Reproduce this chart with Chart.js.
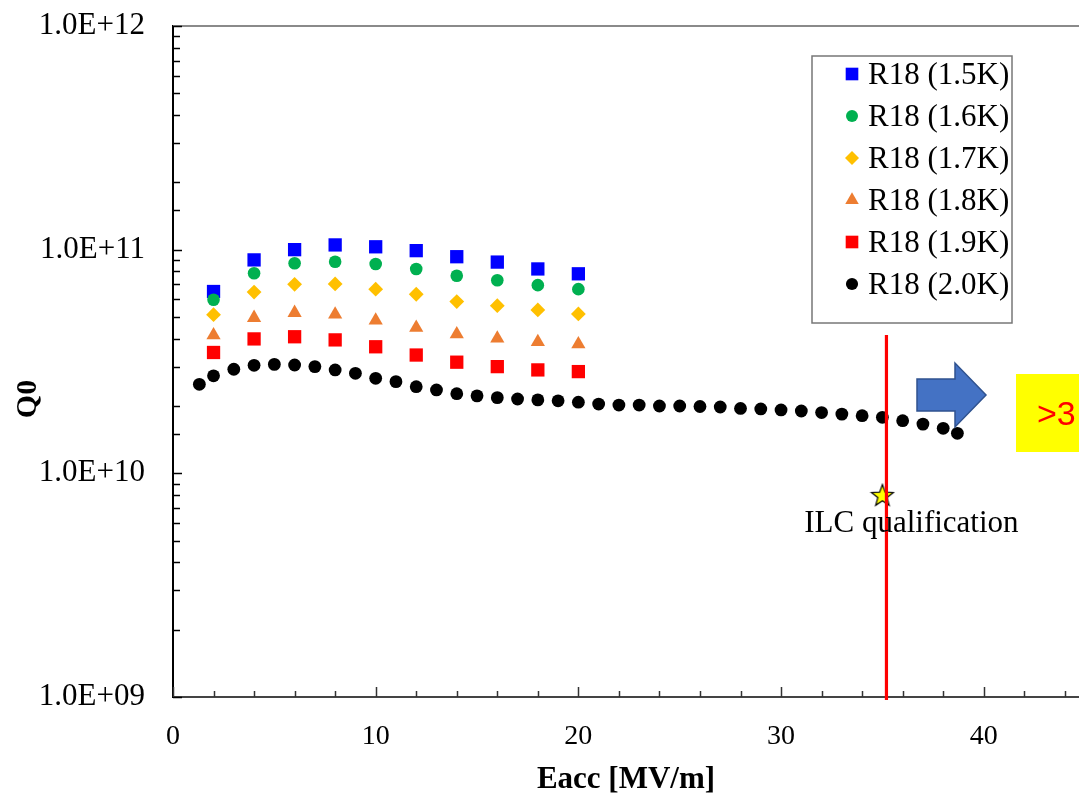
<!DOCTYPE html>
<html>
<head>
<meta charset="utf-8">
<script src="https://cdn.jsdelivr.net/npm/chart.js@4.4.0/dist/chart.umd.min.js"></script>
<style>
  html, body { margin: 0; padding: 0; background: #fff; overflow: hidden; }
  #wrap { width: 1079px; height: 795px; overflow: hidden; }
</style>
</head>
<body>
<div id="wrap"><canvas id="q0Chart" width="1093" height="795"></canvas></div>
<script>
// R18 vertical test: Q0 vs Eacc at several bath temperatures
const eaccSteps = [2, 4, 6, 8, 10, 12, 14, 16, 18, 20];
const q0_15K = [6.5e10, 9.0e10, 1.0e11, 1.05e11, 1.03e11, 9.9e10, 9.3e10, 8.8e10, 8.2e10, 7.8e10];
const q0_16K = [5.97e10, 7.85e10, 8.7e10, 8.83e10, 8.63e10, 8.2e10, 7.65e10, 7.3e10, 6.94e10, 6.66e10];
const q0_17K = [5.12e10, 6.46e10, 7.0e10, 7.03e10, 6.66e10, 6.32e10, 5.86e10, 5.62e10, 5.38e10, 5.16e10];
const q0_18K = [4.15e10, 4.96e10, 5.22e10, 5.13e10, 4.83e10, 4.48e10, 4.19e10, 4.01e10, 3.87e10, 3.78e10];
const q0_19K = [3.47e10, 3.99e10, 4.08e10, 3.95e10, 3.68e10, 3.38e10, 3.14e10, 3.0e10, 2.9e10, 2.85e10];

const eacc20K = [1.3, 2, 3, 4, 5, 6, 7, 8, 9, 10, 11, 12, 13, 14, 15, 16, 17, 18, 19, 20,
                 21, 22, 23, 24, 25, 26, 27, 28, 29, 30, 31, 32, 33, 34, 35, 36, 37, 38, 38.7];
const q0_20K = [2.5e10, 2.73e10, 2.92e10, 3.04e10, 3.07e10, 3.05e10, 3.0e10, 2.9e10, 2.8e10, 2.66e10,
                2.57e10, 2.44e10, 2.36e10, 2.27e10, 2.22e10, 2.18e10, 2.15e10, 2.13e10, 2.11e10, 2.08e10,
                2.04e10, 2.02e10, 2.02e10, 2.0e10, 2.0e10, 1.99e10, 1.98e10, 1.95e10, 1.94e10, 1.92e10,
                1.9e10, 1.87e10, 1.84e10, 1.81e10, 1.78e10, 1.72e10, 1.66e10, 1.59e10, 1.51e10];

const ilcEacc = [35];
const ilcQ0 = [8e9];
const ilcLimit = 35.2;   // red vertical marker
const xTickLabels = [0, 10, 20, 30, 40];

const FONT = "'Liberation Serif', 'Times New Roman', serif";

const series = [
  { label: 'R18 (1.5K)', xs: eaccSteps, ys: q0_15K, color: '#0000FF', style: 'rect', r: 9.4 },
  { label: 'R18 (1.6K)', xs: eaccSteps, ys: q0_16K, color: '#00B050', style: 'circle', r: 6.3 },
  { label: 'R18 (1.7K)', xs: eaccSteps, ys: q0_17K, color: '#FFC000', style: 'rectRot', r: 7.4 },
  { label: 'R18 (1.8K)', xs: eaccSteps, ys: q0_18K, color: '#ED7D31', style: 'triangle', r: 8.2 },
  { label: 'R18 (1.9K)', xs: eaccSteps, ys: q0_19K, color: '#FF0000', style: 'rect', r: 9.4 },
  { label: 'R18 (2.0K)', xs: eacc20K, ys: q0_20K, color: '#000000', style: 'circle', r: 6.4 }
];

function toPoints(xs, ys) {
  return xs.map((x, i) => ({ x: x, y: ys[i] }));
}

function fmtQ(v) {
  const e = Math.log10(v);
  if (Math.abs(e - Math.round(e)) > 1e-9) return '';
  const n = Math.round(e);
  return '1.0E+' + (n < 10 ? '0' + n : n);
}

function makeStar(size) {
  const c = document.createElement('canvas');
  c.width = size;
  c.height = size;
  const g = c.getContext('2d');
  const cx = size / 2, cy = size / 2 + 1;
  const outer = size / 2 - 1.5, inner = outer * 0.42;
  g.beginPath();
  for (let i = 0; i < 10; i++) {
    const r = i % 2 ? inner : outer;
    const a = -Math.PI / 2 + i * Math.PI / 5;
    g.lineTo(cx + r * Math.cos(a), cy + r * Math.sin(a));
  }
  g.closePath();
  g.fillStyle = '#FFFF00';
  g.fill();
  g.strokeStyle = '#000';
  g.lineWidth = 1.2;
  g.stroke();
  return c;
}

const datasets = series.map((s, i) => ({
  label: s.label,
  data: toPoints(s.xs, s.ys),
  pointStyle: s.style,
  pointRadius: s.r,
  backgroundColor: s.color,
  borderColor: s.color,
  borderWidth: 0,
  showLine: false,
  order: 10 - i
}));

datasets.push({
  label: 'ILC qualification',
  data: toPoints(ilcEacc, ilcQ0),
  pointStyle: makeStar(26),
  pointRadius: 13,
  showLine: false,
  order: 20
});

// extra drawing: inner ticks, frame, legend box, annotations
const decorPlugin = {
  id: 'decor',
  afterDatasetsDraw(chart) {
    const { ctx, chartArea: a, scales } = chart;
    const x = scales.x, y = scales.y;
    ctx.save();

    // top frame line
    ctx.strokeStyle = '#8a8a8a';
    ctx.lineWidth = 2;
    ctx.beginPath();
    ctx.moveTo(a.left, a.top);
    ctx.lineTo(a.right, a.top);
    ctx.stroke();

    // y ticks (inside)
    ctx.strokeStyle = '#000';
    ctx.lineWidth = 1.5;
    y.ticks.forEach(t => {
      const py = Math.round(y.getPixelForValue(t.value)) + 0.5;
      const len = fmtQ(t.value) ? 9 : 7;
      ctx.beginPath();
      ctx.moveTo(a.left, py);
      ctx.lineTo(a.left + len, py);
      ctx.stroke();
    });

    // x ticks (inside)
    ctx.strokeStyle = '#333';
    for (let v = 0; v <= x.max; v += 2) {
      const px = Math.round(x.getPixelForValue(v)) + 0.5;
      const len = v % 10 === 0 ? 10 : 6;
      ctx.beginPath();
      ctx.moveTo(px, a.bottom);
      ctx.lineTo(px, a.bottom - len);
      ctx.stroke();
    }

    // red limit line
    const lx = x.getPixelForValue(ilcLimit);
    ctx.strokeStyle = '#FF0000';
    ctx.lineWidth = 3.2;
    ctx.beginPath();
    ctx.moveTo(lx, y.getPixelForValue(4.15e10));
    ctx.lineTo(lx, a.bottom + 3);
    ctx.stroke();

    // ILC label under the star
    const sx = x.getPixelForValue(ilcEacc[0]);
    const sy = y.getPixelForValue(ilcQ0[0]);
    ctx.fillStyle = '#000';
    ctx.font = '31px ' + FONT;
    ctx.textAlign = 'center';
    ctx.textBaseline = 'alphabetic';
    ctx.fillText('ILC qualification', sx + 29, sy + 37);

    // block arrow
    ctx.beginPath();
    ctx.moveTo(917, 379);
    ctx.lineTo(955, 379);
    ctx.lineTo(955, 363);
    ctx.lineTo(986, 395);
    ctx.lineTo(955, 427);
    ctx.lineTo(955, 411);
    ctx.lineTo(917, 411);
    ctx.closePath();
    ctx.fillStyle = '#4472C4';
    ctx.fill();
    ctx.strokeStyle = '#2F528F';
    ctx.lineWidth = 1.5;
    ctx.stroke();

    // yellow note
    ctx.fillStyle = '#FFFF00';
    ctx.fillRect(1016, 374, 80, 78);
    ctx.fillStyle = '#FF0000';
    ctx.font = "34px 'Liberation Sans', Arial, sans-serif";
    ctx.textAlign = 'left';
    ctx.fillText('>3', 1037, 425);

    // legend
    ctx.fillStyle = '#fff';
    ctx.fillRect(812, 56, 200, 267);
    ctx.strokeStyle = '#777';
    ctx.lineWidth = 1.5;
    ctx.strokeRect(812, 56, 200, 267);
    ctx.font = '31px ' + FONT;
    ctx.textAlign = 'left';
    series.forEach((s, i) => {
      const cy = 74 + i * 42;
      ctx.fillStyle = s.color;
      ctx.strokeStyle = s.color;
      Chart.helpers.drawPoint(ctx, { pointStyle: s.style, radius: s.r * 0.95, borderWidth: 0 }, 852, cy);
      ctx.fillStyle = '#000';
      ctx.fillText(s.label, 868, cy + 10);
    });

    // y axis title
    ctx.translate(36, 399);
    ctx.rotate(-Math.PI / 2);
    ctx.font = 'bold 30px ' + FONT;
    ctx.textAlign = 'center';
    ctx.fillStyle = '#000';
    ctx.fillText('Q0', 0, 0);

    ctx.restore();
  }
};

new Chart(document.getElementById('q0Chart'), {
  type: 'scatter',
  data: { datasets: datasets },
  options: {
    responsive: false,
    devicePixelRatio: 1,
    animation: false,
    events: [],
    layout: { padding: { top: 26, right: 0, bottom: 0, left: 0 } },
    plugins: {
      legend: { display: false },
      tooltip: { enabled: false }
    },
    scales: {
      x: {
        type: 'linear',
        min: 0,
        max: 44.7,
        grid: { display: false, drawTicks: false },
        border: { display: true, color: '#444', width: 2 },
        ticks: {
          stepSize: 2,
          autoSkip: false,
          maxRotation: 0,
          padding: 23,
          color: '#000',
          font: { family: FONT, size: 28 },
          callback: v => xTickLabels.includes(v) ? String(v) : ''
        },
        title: {
          display: true,
          text: 'Eacc [MV/m]',
          color: '#000',
          font: { family: FONT, size: 31, weight: 'bold' },
          padding: { top: 0, bottom: -4 }
        },
        afterFit: s => {
          s.height = 98;
          s.paddingLeft = 0;
          s.paddingRight = 0;
        }
      },
      y: {
        type: 'logarithmic',
        min: 1e9,
        max: 1e12,
        grid: { display: false, drawTicks: false },
        border: { display: true, color: '#000', width: 2 },
        ticks: {
          autoSkip: false,
          padding: 28,
          color: '#000',
          font: { family: FONT, size: 31 },
          callback: fmtQ
        },
        afterFit: s => {
          s.width = 173;
          s.paddingTop = 0;
          s.paddingBottom = 0;
        }
      }
    }
  },
  plugins: [decorPlugin]
});
</script>
</body>
</html>
